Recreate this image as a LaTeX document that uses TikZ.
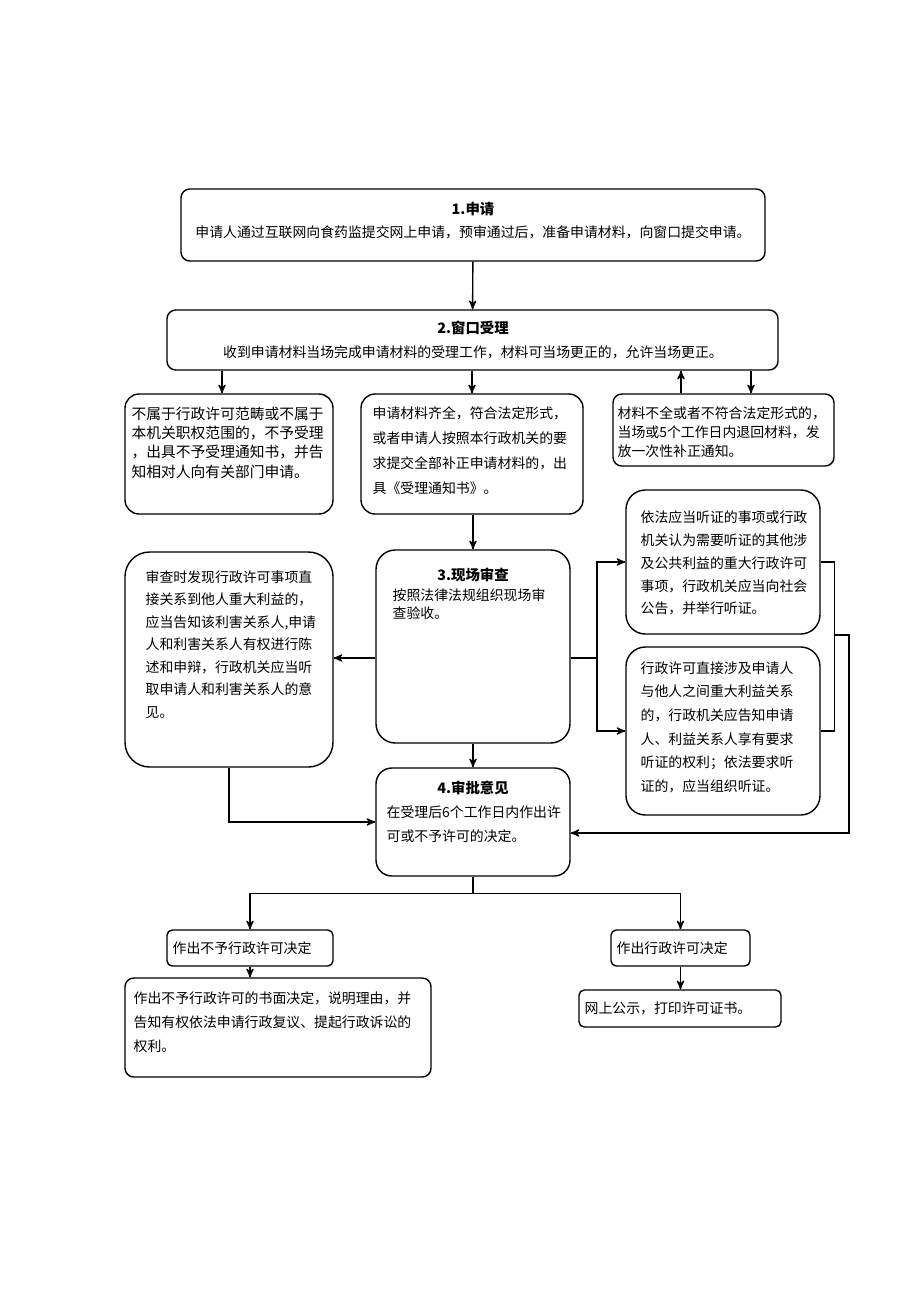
\documentclass[tikz,border=0pt]{standalone}
\usepackage{fontspec}
\setmainfont{Noto Sans CJK SC}
\usetikzlibrary{arrows,calc}
\tikzset{wh/.style 2 args={minimum width=#1*0.02cm,minimum height=#2*0.02cm}}
\newcommand{\lsk}[1]{\fontsize{7.9pt}{#1}\selectfont}

\begin{document}
\begin{tikzpicture}[x=0.02cm,y=-0.02cm,>=stealth',line width=0.8pt]
  \tikzstyle{box}=[draw,rectangle,rounded corners=5pt,inner sep=0pt]
  \tikzstyle{txt}=[inner sep=0pt,align=left,anchor=north west,font=\lsk{11pt}]
  \tikzstyle{ttl}=[inner sep=0pt,font=\bfseries\fontsize{8.2pt}{10pt}\selectfont]

  \useasboundingbox (0,0) rectangle (920,1302);

  % boxes
  \node[box,wh={584}{72}] (b1) at (473,225) {};
  \node[box,wh={611}{60}] (b2) at (472.5,340) {};
  \node[box,wh={208}{120},rounded corners=8pt] (na) at (229,454) {};
  \node[box,wh={222}{120},rounded corners=8pt] (nb) at (472,454) {};
  \node[box,wh={221}{72}] (nc) at (723.5,430) {};
  \node[box,wh={194}{193},rounded corners=11pt] (b3) at (473,646.5) {};
  \node[box,wh={208}{215},rounded corners=14pt] (hl) at (229,659.5) {};
  \node[box,wh={194}{144},rounded corners=11pt] (r1) at (723,562) {};
  \node[box,wh={194}{168},rounded corners=11pt] (r2) at (723,731) {};
  \node[box,wh={194}{108},rounded corners=9pt] (b4) at (473,822) {};
  \node[box,wh={166}{36},rounded corners=3pt] (no) at (250,948) {};
  \node[box,wh={139}{36},rounded corners=3pt] (yes) at (680.5,948) {};
  \node[box,wh={306}{99}] (no2) at (278,1027.5) {};
  \node[box,wh={202}{37},rounded corners=3pt] (yes2) at (680,1008.5) {};

  % texts
  \node[ttl] (b1-t) at (473,209) {1.申请};
  \node[inner sep=0pt,font=\lsk{11pt}] (b1-x) at (473,232)
    {申请人通过互联网向食药监提交网上申请，预审通过后，准备申请材料，向窗口提交申请。};
  \node[ttl] (b2-t) at (473,328) {2.窗口受理};
  \node[inner sep=0pt,font=\lsk{11pt}] (b2-x) at (473,352)
    {收到申请材料当场完成申请材料的受理工作，材料可当场更正的，允许当场更正。};
  \node[txt,font=\fontsize{8.4pt}{11pt}\selectfont] (na-x) at (131,406)
    {不属于行政许可范畴或不属于\\本机关职权范围的，不予受理\\，出具不予受理通知书，并告\\知相对人向有关部门申请。};
  \node[txt,font=\lsk{14.2pt}] (nb-x) at (372,406)
    {申请材料齐全，符合法定形式，\\或者申请人按照本行政机关的要\\求提交全部补正申请材料的，出\\具《受理通知书》。};
  \node[txt,font=\lsk{10.8pt}] (nc-x) at (617,406)
    {材料不全或者不符合法定形式的，\\当场或5个工作日内退回材料，发\\放一次性补正通知。};
  \node[ttl] (b3-t) at (473,575) {3.现场审查};
  \node[txt,font=\lsk{10.2pt}] (b3-x) at (392,588)
    {按照法律法规组织现场审\\查验收。};
  \node[txt,font=\lsk{12.8pt}] (hl-x) at (145,570)
    {审查时发现行政许可事项直\\接关系到他人重大利益的，\\应当告知该利害关系人,申请\\人和利害关系人有权进行陈\\述和申辩，行政机关应当听\\取申请人和利害关系人的意\\见。};
  \node[txt,font=\lsk{13pt}] (r1-x) at (640,510)
    {依法应当听证的事项或行政\\机关认为需要听证的其他涉\\及公共利益的重大行政许可\\事项，行政机关应当向社会\\公告，并举行听证。};
  \node[txt,font=\lsk{13.4pt}] (r2-x) at (640,661)
    {行政许可直接涉及申请人\\与他人之间重大利益关系\\的，行政机关应告知申请\\人、利益关系人享有要求\\听证的权利；依法要求听\\证的，应当组织听证。};
  \node[ttl] (b4-t) at (473,788) {4.审批意见};
  \node[txt,font=\lsk{13.6pt}] (b4-x) at (386,805)
    {在受理后6个工作日内作出许\\可或不予许可的决定。};
  \node[txt,anchor=west] (no-x) at (172,948) {作出不予行政许可决定};
  \node[txt,anchor=west] (yes-x) at (616,948) {作出行政许可决定};
  \node[txt,font=\lsk{13.6pt}] (no2-x) at (133,991)
    {作出不予行政许可的书面决定，说明理由，并\\告知有权依法申请行政复议、提起行政诉讼的\\权利。};
  \node[txt,anchor=west] (yes2-x) at (584,1008.5) {网上公示，打印许可证书。};

  \coordinate (fork) at (597,658);
  \coordinate (jn) at (834,635);

  % connectors
  \draw[->] (b1) -- (b2);
  \draw[->] (b2.south -| 222,0) -- (na.north -| 222,0);
  \draw[->] (b2.south -| nb.north) -- (nb.north);
  \draw[->] ($(nc.north)+(-42.5,0)$) -- ($(nc.north |- b2.south)+(-42.5,0)$);
  \draw[->] ($(nc.north |- b2.south)+(27.5,0)$) -- ($(nc.north)+(27.5,0)$);
  \draw[->] (nb.south -| b3.north) -- (b3.north);
  \draw[->] (b3.west |- fork) -- (hl.east |- fork);
  \draw (b3.east |- fork) -- (fork);
  \draw[->] (fork) |- (r1.west);
  \draw[->] (fork) |- (r2.west);
  \draw (r1.east) -- ++(14,0) |- (r2.east);
  \draw[->] (jn) -- ++(15,0) |- ($(b4.east)+(0,11)$);
  \draw[->] (b3) -- (b4);
  \draw[->] (hl.south) |- (b4.west);
  \draw (b4.south) -- ++(0,17) coordinate (sp);
  \draw[->] (sp) -| (no.north);
  \draw[->] (sp) -| (yes.north);
  \draw[->] (no.south) -- (no.south |- no2.north);
  \draw[->] (yes.south) -- (yes.south |- yes2.north);
\end{tikzpicture}
\end{document}
